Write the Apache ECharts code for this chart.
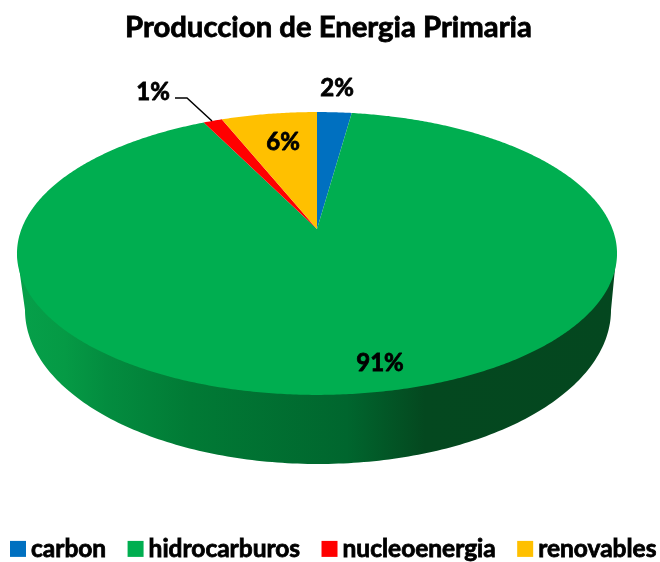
<!DOCTYPE html>
<html>
<head>
<meta charset="utf-8">
<style>
  html, body { margin: 0; padding: 0; background: #fff; }
  #chart { width: 660px; height: 562px; }
</style>
<script src="https://cdn.jsdelivr.net/npm/echarts@6/dist/echarts.min.js"></script>
</head>
<body>
<div id="chart"></div>
<script>
const categories = ['carbon', 'hidrocarburos', 'nucleoenergia', 'renovables']
const values = [2.2, 90.5, 1.2, 6.1]
const percentLabels = ['2%', '91%', '1%', '6%']
const colors = ['#0070C0', '#00AE50', '#FF0000', '#FFC000']

// label centres, in page pixels
const labelAt = [[337, 88], [380, 363], [153, 92], [283, 142]]
const leaderLine = [[175, 98], [187, 98], [212, 121]]

const fontFamily = 'Lato, "Open Sans", sans-serif'
const total = values.reduce((a, b) => a + b, 0)

// tilted disc: a circle pushed through a small perspective, apex sits above the ellipse centre
const apex = { x: 317, y: 229 }
const persp = 0.173
const scaleX = 295.5
const scaleY = 137.2

function discPoint(deg) {
  const t = deg * Math.PI / 180
  const w = 1 + persp * Math.cos(t)
  return [apex.x + scaleX * Math.sin(t) / w, apex.y - scaleY * Math.cos(t) / w]
}

function slicePoints(from, to) {
  const pts = [[apex.x, apex.y]]
  const steps = Math.max(2, Math.ceil((to - from) * 2))
  for (let i = 0; i <= steps; i++) pts.push(discPoint(from + (to - from) * i / steps))
  return pts
}

// front wall: sits under the top face, so its upper side is just the widest chord
const wallEdge = { left: 17, right: 616.5, y: 253 }
const wallBottom = { cx: 318, cy: 310, rx: 293, ry: 154 }

function wallPoints() {
  const pts = [[wallEdge.right, wallEdge.y], [wallEdge.left, wallEdge.y]]
  for (let a = 0; a <= 180; a += 1) {
    const t = a * Math.PI / 180
    pts.push([wallBottom.cx - wallBottom.rx * Math.cos(t), wallBottom.cy + wallBottom.ry * Math.sin(t)])
  }
  return pts
}

const wallFill = {
  type: 'linear', x: 0, y: 0, x2: 1, y2: 0,
  colorStops: [
    { offset: 0, color: '#06a04a' },
    { offset: 0.08, color: '#059a45' },
    { offset: 0.15, color: '#038c3f' },
    { offset: 0.29, color: '#017a35' },
    { offset: 0.55, color: '#00662e' },
    { offset: 0.68, color: '#04481f' },
    { offset: 1, color: '#04471f' },
  ],
}

function makeSeries(name, idx) {
  const from = values.slice(0, idx).reduce((a, b) => a + b, 0) / total * 360
  const to = from + values[idx] / total * 360
  return {
    name,
    type: 'custom',
    coordinateSystem: 'none',
    silent: true,
    itemStyle: { color: colors[idx] },
    data: [values[idx]],
    renderItem: () => {
      const children = []
      if (name === 'hidrocarburos') {
        children.push({ type: 'polygon', shape: { points: wallPoints() }, style: { fill: wallFill } })
      }
      children.push({ type: 'polygon', shape: { points: slicePoints(from, to) }, style: { fill: colors[idx] } })
      if (name === 'nucleoenergia') {
        children.push({
          type: 'polyline',
          shape: { points: leaderLine },
          style: { stroke: '#000', lineWidth: 1.5, fill: null },
        })
      }
      children.push({
        type: 'text',
        z2: 10,
        style: {
          x: labelAt[idx][0],
          y: labelAt[idx][1],
          text: percentLabels[idx],
          align: 'center',
          verticalAlign: 'middle',
          fill: '#000',
          font: 'bold 24px ' + fontFamily,
          stroke: '#000',
          lineWidth: 0.8,
        },
      })
      return { type: 'group', children }
    },
  }
}

const chart = echarts.init(document.getElementById('chart'), null, { renderer: 'canvas' })
chart.setOption({
  animation: false,
  backgroundColor: '#fff',
  title: {
    text: 'Produccion de Energia Primaria',
    left: 120,
    top: 8,
    textStyle: {
      color: '#000', fontFamily, fontWeight: 'bold', fontSize: 29.3,
      textBorderColor: '#000', textBorderWidth: 0.8,
    },
  },
  legend: {
    left: 5,
    top: 531,
    width: 680,
    icon: 'rect',
    itemWidth: 16,
    itemHeight: 16,
    itemGap: 21,
    selectedMode: false,
    data: categories,
    textStyle: {
      color: '#000', fontFamily, fontWeight: 'bold', fontSize: 24.5,
      textBorderColor: '#000', textBorderWidth: 0.8,
    },
  },
  series: categories.map(makeSeries),
})
</script>
</body>
</html>
